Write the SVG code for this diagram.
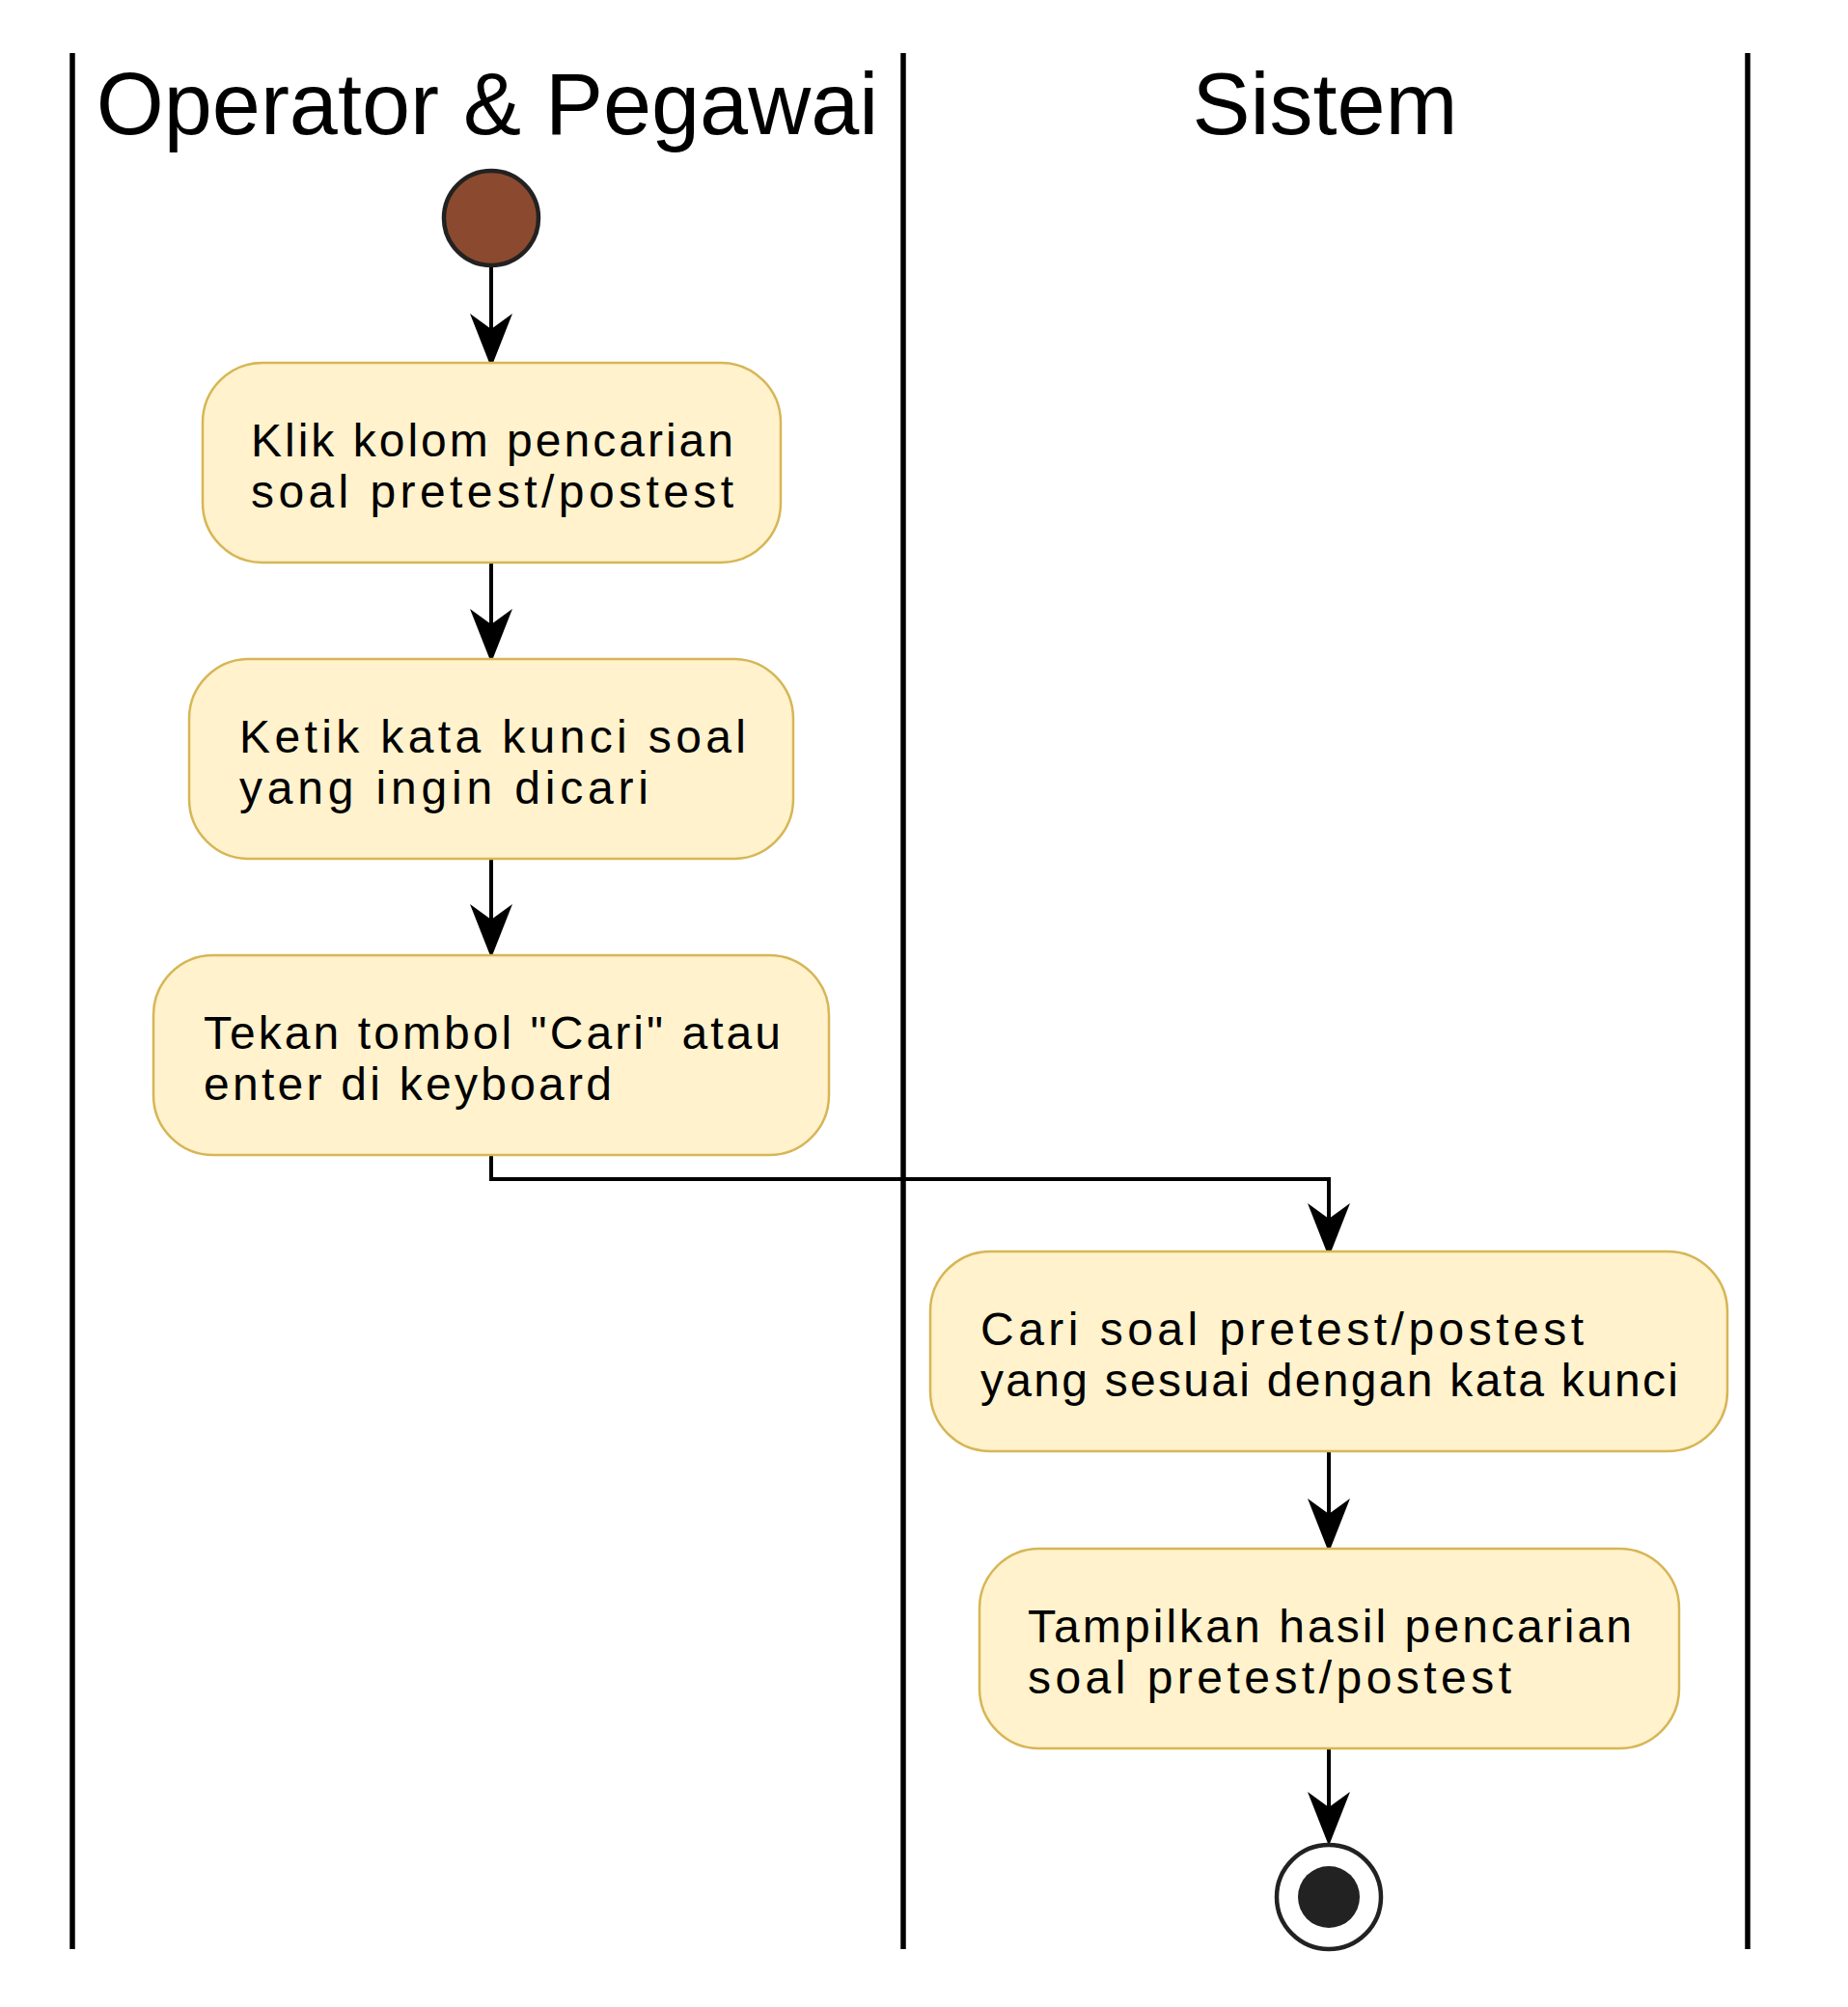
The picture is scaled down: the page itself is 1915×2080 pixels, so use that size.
<svg xmlns="http://www.w3.org/2000/svg" width="1915" height="2080" viewBox="0 0 1915 2080">
  <style>
    .lane { stroke: #000; stroke-width: 5.5; fill: none; }
    .title { font-family: "Liberation Sans", Arial, sans-serif; font-size: 90px; fill: #000; text-anchor: middle; }
    .act rect { fill: #FFF2CC; stroke: #D6B656; stroke-width: 2.5; }
    .act text { font-family: "Liberation Sans", Arial, sans-serif; font-size: 48px; fill: #000; }
    .edge { stroke: #000; stroke-width: 4; fill: none; }
  </style>
  <defs>
    <marker id="arrow" markerUnits="userSpaceOnUse" viewBox="-5 -30 70 60" refX="16" refY="0" markerWidth="70" markerHeight="60" orient="auto" overflow="visible">
      <path d="M0,-22 L56,0 L0,22 L16,0 Z" fill="#000"/>
    </marker>
  </defs>
  <rect x="0" y="0" width="1915" height="2080" fill="#fff"/>

  <g id="lanes">
    <line class="lane" x1="75" y1="55" x2="75" y2="2020"/>
    <line class="lane" x1="936" y1="55" x2="936" y2="2020"/>
    <line class="lane" x1="1811" y1="55" x2="1811" y2="2020"/>
    <text class="title" x="505" y="139">Operator &amp; Pegawai</text>
    <text class="title" x="1373" y="139">Sistem</text>
  </g>

  <g id="connectors">
    <line class="edge" x1="509" y1="276" x2="509" y2="341" marker-end="url(#arrow)"/>
    <line class="edge" x1="509" y1="583" x2="509" y2="647" marker-end="url(#arrow)"/>
    <line class="edge" x1="509" y1="890" x2="509" y2="953" marker-end="url(#arrow)"/>
    <polyline class="edge" points="509,1197 509,1222 1377,1222 1377,1263" marker-end="url(#arrow)"/>
    <line class="edge" x1="1377" y1="1504" x2="1377" y2="1569" marker-end="url(#arrow)"/>
    <line class="edge" x1="1377" y1="1812" x2="1377" y2="1873" marker-end="url(#arrow)"/>
  </g>

  <g id="start">
    <circle cx="509" cy="226" r="49" fill="#8B4A2F" stroke="#222" stroke-width="4.5"/>
  </g>

  <g id="act1" class="act">
    <rect x="210" y="376" width="599" height="207" rx="62" ry="62"/>
    <text x="260" y="473" textLength="500" lengthAdjust="spacing">Klik kolom pencarian</text>
    <text x="260" y="526" textLength="500" lengthAdjust="spacing">soal pretest/postest</text>
  </g>

  <g id="act2" class="act">
    <rect x="196" y="683" width="626" height="207" rx="62" ry="62"/>
    <text x="248" y="780" textLength="525" lengthAdjust="spacing">Ketik kata kunci soal</text>
    <text x="248" y="833" textLength="424" lengthAdjust="spacing">yang ingin dicari</text>
  </g>

  <g id="act3" class="act">
    <rect x="159" y="990" width="700" height="207" rx="62" ry="62"/>
    <text x="211" y="1087" textLength="598" lengthAdjust="spacing">Tekan tombol "Cari" atau</text>
    <text x="211" y="1140" textLength="423" lengthAdjust="spacing">enter di keyboard</text>
  </g>

  <g id="act4" class="act">
    <rect x="964" y="1297" width="826" height="207" rx="62" ry="62"/>
    <text x="1016" y="1394" textLength="625" lengthAdjust="spacing">Cari soal pretest/postest</text>
    <text x="1016" y="1447" textLength="723" lengthAdjust="spacing">yang sesuai dengan kata kunci</text>
  </g>

  <g id="act5" class="act">
    <rect x="1015" y="1605" width="725" height="207" rx="62" ry="62"/>
    <text x="1065" y="1702" textLength="626" lengthAdjust="spacing">Tampilkan hasil pencarian</text>
    <text x="1065" y="1755" textLength="501" lengthAdjust="spacing">soal pretest/postest</text>
  </g>

  <g id="end">
    <circle cx="1377" cy="1966" r="54" fill="#fff" stroke="#222" stroke-width="4.5"/>
    <circle cx="1377" cy="1966" r="32" fill="#222"/>
  </g>
</svg>
